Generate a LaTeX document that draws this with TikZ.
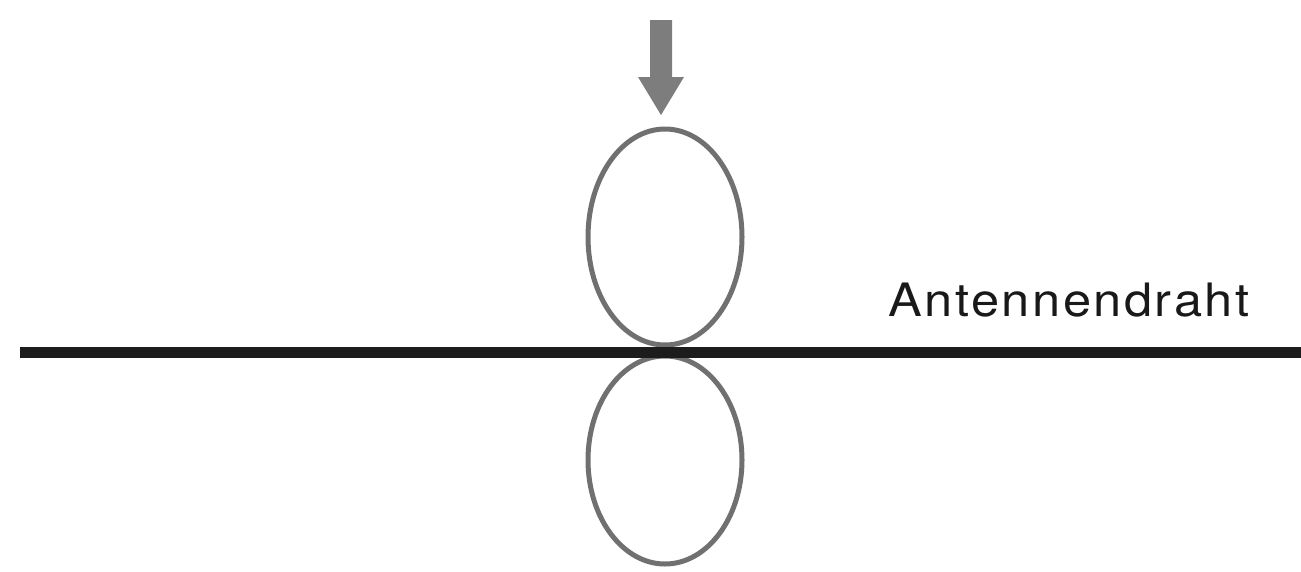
\documentclass[tikz,border=0pt]{standalone}
\usepackage{fontspec}
\newfontfamily\labelfont[LetterSpace=5]{TeX Gyre Heros}
\definecolor{loopgray}{RGB}{112,112,112}
\definecolor{wire}{RGB}{28,28,28}
\definecolor{arrowgray}{RGB}{125,125,125}
\tikzset{
  loop/.style={draw=loopgray, line width=5pt},
  wireline/.style={draw=wire, line width=11pt},
  lbl/.style={inner sep=0pt, font=\labelfont\fontsize{46}{50}\selectfont, text=black!90, xscale=1.1}
}
\begin{document}
\begin{tikzpicture}[x=1pt,y=-1pt]
\useasboundingbox (0,0) rectangle (1301,571);
% loops
\draw[loop] (665,237) ellipse [x radius=77, y radius=108];
\draw[loop] (665,460) ellipse [x radius=77, y radius=104];
% antenna wire
\coordinate (wl) at (20,352);
\coordinate (wr) at (1301,352);
\draw[wireline] (wl) -- (wr);
% label
\node[lbl, anchor=base west] (ant) at (888,316) {Antennendraht};
% arrow
\fill[arrowgray] (650,20) -- (672,20) -- (672,77) -- (684,77) -- (661,115) -- (638,77) -- (650,77) -- cycle;
\end{tikzpicture}
\end{document}
